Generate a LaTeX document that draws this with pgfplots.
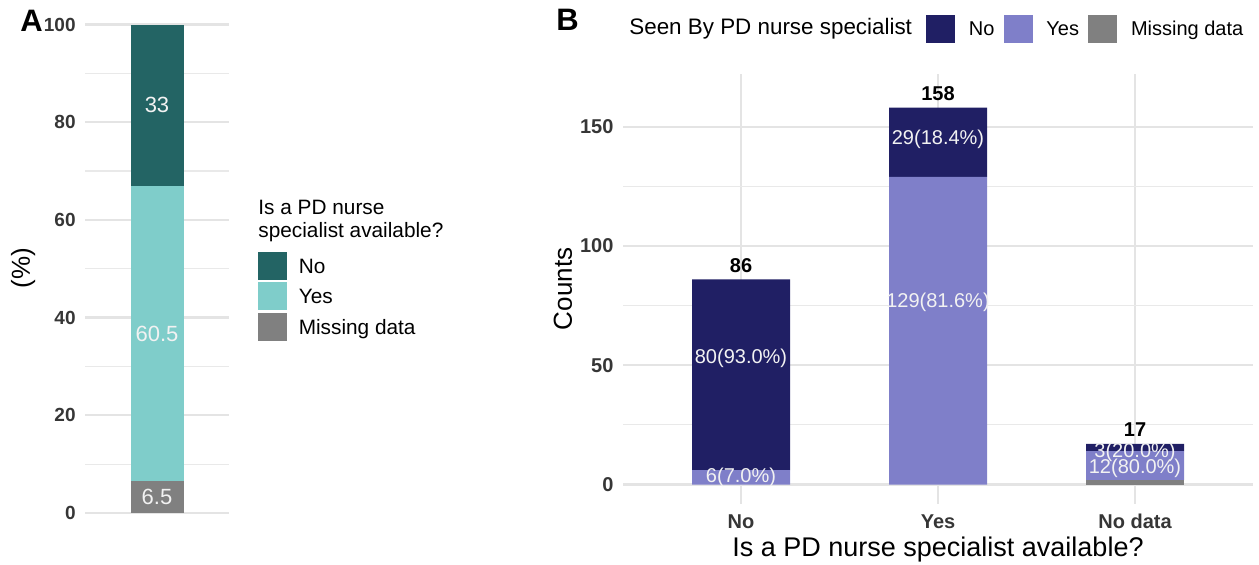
\documentclass[border=0pt]{standalone}
\usepackage{fontspec}
\setmainfont{Liberation Sans}
\usepackage{pgfplots}
\usepackage{pgfplotstable}
\pgfplotsset{compat=1.18}

\definecolor{tealNo}{HTML}{236464}
\definecolor{tealYes}{HTML}{7FCDCA}
\definecolor{navyNo}{HTML}{201F64}
\definecolor{lavYes}{HTML}{7F7FC9}
\definecolor{missgray}{HTML}{808080}
\definecolor{tickgray}{HTML}{363636}
\definecolor{labwhite}{HTML}{F2F2F2}
\definecolor{gridgray}{HTML}{E4E4E4}

% panel A: percentages
\pgfplotstableread{
x missing yes no
1 6.5 60.5 33
}\pctA
% label positions, middle of each segment
\pgfplotstableread{
x y label
1 3.25 6.5
1 36.75 60.5
1 83.5 33
}\labA

% panel B: counts
\pgfplotstableread{
x missing yes no
1 0 6 80
2 0 129 29
3 2 12 3
}\cntB
\pgfplotstableread{
x y label
1 2.9 {6(7.0\%)}
1 53.1 {80(93.0\%)}
2 76.5 {129(81.6\%)}
2 144.6 {29(18.4\%)}
3 6.7 {12(80.0\%)}
3 13.7 {3(20.0\%)}
}\labB
\pgfplotstableread{
x y label
1 91.9 86
2 163.9 158
3 23.0 17
}\totB

\pgfplotsset{
  panel/.style={
    scale only axis, clip=false,
    axis line style={draw=none},
    tick style={draw=none},
    major tick length=0pt, minor tick length=0pt,
    major grid style={color=gridgray, line width=1.1pt},
    minor grid style={color=gridgray!80, line width=0.6pt},
    /pgf/number format/assume math mode=true,
    ticklabel style={text=tickgray, font=\fontsize{10}{12}\selectfont\bfseries},
    yticklabel style={anchor=east, inner sep=0pt, xshift=-4.5pt},
    xticklabel style={anchor=north, inner sep=0pt, yshift=-5pt},
    legend cell align=left,
  },
  labels/.style={scale only axis, hide axis, clip=false},
  textlabels/.style={only marks, mark=text, text mark={},
    nodes near coords, point meta=explicit symbolic},
  key/.style={legend image code/.code={\fill[#1] (0pt,-6pt) rectangle (14pt,7.5pt);}},
}

\begin{document}
\begin{tikzpicture}
\path[use as bounding box] (0,0) rectangle (629.5pt,282.5pt);

% ---------- panel A ----------
\begin{axis}[panel,
  at={(42.5pt,13.8pt)}, anchor=south west,
  width=72pt, height=268.65pt,
  ybar stacked, bar width=26.5pt,
  xmin=0.4, xmax=1.6, ymin=-5, ymax=105,
  xtick=\empty,
  ytick={0,20,...,100}, minor ytick={10,30,...,90},
  ymajorgrids, yminorgrids,
  ticklabel style={font=\fontsize{9.5}{12}\selectfont\bfseries},
  ylabel={(\%)},
  ylabel style={at={(axis description cs:-0.43,0.501)}, anchor=center,
    font=\fontsize{13}{15}\selectfont},
  legend style={at={(axis description cs:1.2014,0.5312)}, anchor=north west,
    draw=none, fill=none, inner sep=0pt, outer sep=0pt, row sep=1.25pt,
    font=\fontsize{10.4}{12}\selectfont, nodes={inner sep=0pt},
    /tikz/every odd column/.append style={column sep=6pt}},
]
\addlegendimage{key=tealNo}
\addlegendimage{key=tealYes}
\addlegendimage{key=missgray}
\addplot[fill=missgray, draw=none] table[x=x, y=missing] {\pctA};
\addplot[fill=tealYes, draw=none] table[x=x, y=yes] {\pctA};
\addplot[fill=tealNo, draw=none] table[x=x, y=no] {\pctA};
\legend{No,Yes,Missing data}
\node[anchor=north west, align=left, inner sep=0pt, font=\fontsize{10.4}{11.5}\selectfont]
  at (axis description cs:1.2014,0.628) {Is a PD nurse\\specialist available?};
\end{axis}

\begin{axis}[labels,
  at={(42.5pt,13.8pt)}, anchor=south west,
  width=72pt, height=268.65pt,
  xmin=0.4, xmax=1.6, ymin=-5, ymax=105]
\addplot[textlabels,
  every node near coord/.append style={anchor=center, inner sep=0pt, text=labwhite,
    font=\fontsize{11}{13}\selectfont}]
  table[x=x, y=y, meta=label] {\labA};
\end{axis}

% ---------- panel B ----------
\begin{axis}[panel,
  at={(311.4pt,30.45pt)}, anchor=south west,
  width=315.2pt, height=215.2pt,
  ybar stacked, bar width=49pt,
  xmin=0.4, xmax=3.6, ymin=-8.2, ymax=172.2,
  xtick={1,2,3}, xticklabels={No,Yes,No data},
  ytick={0,50,100,150}, minor ytick={25,75,125},
  xmajorgrids, ymajorgrids, yminorgrids,
  xlabel={Is a PD nurse specialist available?},
  xlabel style={at={(axis description cs:0.5,-0.1046)}, anchor=center,
    font=\fontsize{13.5}{16}\selectfont},
  ylabel={Counts},
  ylabel style={at={(axis description cs:-0.0949,0.5)}, anchor=center,
    font=\fontsize{13}{15}\selectfont},
  legend columns=-1,
  legend style={at={(axis description cs:0.481,1.105)}, anchor=west,
    draw=none, fill=none, inner sep=0pt, outer sep=0pt,
    font=\fontsize{10}{12}\selectfont, nodes={inner sep=0pt},
    /tikz/every odd column/.append style={column sep=7pt},
    /tikz/every even column/.append style={column sep=4.6pt}},
]
\addlegendimage{key=navyNo}
\addlegendimage{key=lavYes}
\addlegendimage{key=missgray}
\addplot[fill=missgray, draw=none] table[x=x, y=missing] {\cntB};
\addplot[fill=lavYes, draw=none] table[x=x, y=yes] {\cntB};
\addplot[fill=navyNo, draw=none] table[x=x, y=no] {\cntB};
\legend{No,Yes,Missing data}
\node[anchor=west, inner sep=0pt, font=\fontsize{11.2}{13}\selectfont]
  at (axis description cs:0.0098,1.105) {Seen By PD nurse specialist};
\end{axis}

\begin{axis}[labels,
  at={(311.4pt,30.45pt)}, anchor=south west,
  width=315.2pt, height=215.2pt,
  xmin=0.4, xmax=3.6, ymin=-8.2, ymax=172.2]
\addplot[textlabels,
  every node near coord/.append style={anchor=center, inner sep=0pt, text=labwhite,
    font=\fontsize{10}{12}\selectfont}]
  table[x=x, y=y, meta=label] {\labB};
\addplot[textlabels,
  every node near coord/.append style={anchor=center, inner sep=0pt, text=black,
    font=\fontsize{10}{12}\selectfont\bfseries}]
  table[x=x, y=y, meta=label] {\totB};
\end{axis}

% panel tags
\node[anchor=base west, inner sep=0pt, font=\fontsize{15.5}{18}\selectfont\bfseries]
  at (10pt,266.5pt) {A};
\node[anchor=base west, inner sep=0pt, font=\fontsize{15.5}{18}\selectfont\bfseries]
  at (278pt,267pt) {B};
\end{tikzpicture}
\end{document}
